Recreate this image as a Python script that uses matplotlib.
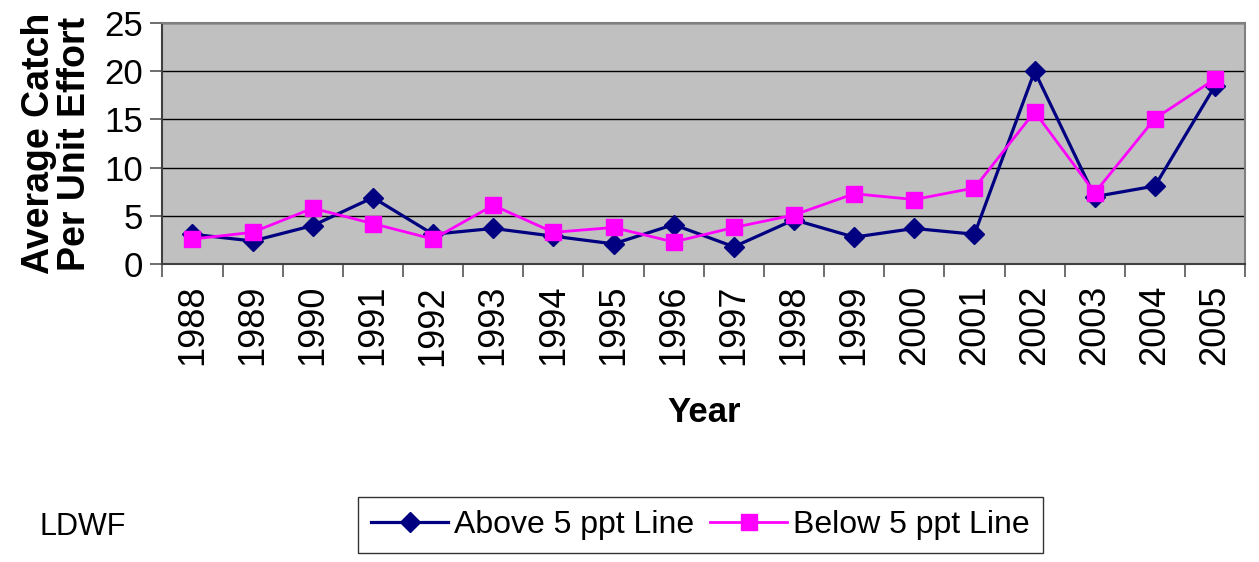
import numpy as np
import matplotlib
matplotlib.use("Agg")
from matplotlib import pyplot as plt

years = [str(y) for y in range(1988, 2006)]
above = [3.1, 2.4, 4.0, 6.9, 3.1, 3.7, 2.9, 2.1, 4.1,
         1.8, 4.6, 2.8, 3.7, 3.1, 20.0, 7.0, 8.1, 18.5]
below = [2.6, 3.3, 5.8, 4.2, 2.6, 6.1, 3.3, 3.8, 2.3,
         3.8, 5.1, 7.3, 6.7, 7.9, 15.8, 7.4, 15.1, 19.2]

plt.rcParams['font.family'] = ['Liberation Sans', 'DejaVu Sans']

fig = plt.figure(figsize=(12.59, 5.62), dpi=100)
ax = fig.add_axes([0.129, 0.530, 0.860, 0.429])
ax.set_facecolor('#C0C0C0')

x = np.arange(len(years))
ax.plot(x, above, color='#000080', lw=2.3, marker='D', ms=10.5,
        label='Above 5 ppt Line', zorder=3)
ax.plot(x, below, color='#FF00FF', lw=2.0, marker='s', ms=11,
        label='Below 5 ppt Line', zorder=4)

ax.set_xlim(-0.5, len(years) - 0.5)
ax.set_ylim(0, 25)
ax.set_yticks(range(0, 26, 5))
ax.yaxis.grid(True, color='black', lw=1)
ax.set_axisbelow(True)

# ticks sit between the categories, labels at the centres
ax.set_xticks(np.arange(len(years) + 1) - 0.5)
ax.set_xticklabels([])
ax.set_xticks(x, minor=True)
ax.set_xticklabels(years, minor=True, rotation=90, fontsize=26)
ax.tick_params(axis='x', which='minor', length=0, pad=15)
ax.tick_params(axis='x', which='major', length=9, width=1.2, color='#555555')
ax.tick_params(axis='y', length=9, width=1.2, labelsize=25, pad=5, color='#555555')

for s in ['top', 'right']:
    ax.spines[s].set_color('#808080')
    ax.spines[s].set_linewidth(1.5)
for s in ['left', 'bottom']:
    ax.spines[s].set_color('#404040')
    ax.spines[s].set_linewidth(1.5)

ax.set_ylabel('Average Catch\nPer Unit Effort', fontsize=27, fontweight='bold',
              linespacing=1.0, labelpad=8)
ax.set_xlabel('Year', fontsize=25, fontweight='bold', labelpad=22)

leg = fig.legend(loc='center', bbox_to_anchor=(0.5565, 0.066), ncol=2,
                 fontsize=23, frameon=True, fancybox=False, edgecolor='black',
                 handlelength=2.4, handletextpad=0.2, columnspacing=0.5,
                 borderpad=0.4)
leg.get_frame().set_linewidth(1)

fig.text(0.031, 0.062, 'LDWF', fontsize=22, va='center', ha='left')

fig.savefig('out.png', dpi=100)
